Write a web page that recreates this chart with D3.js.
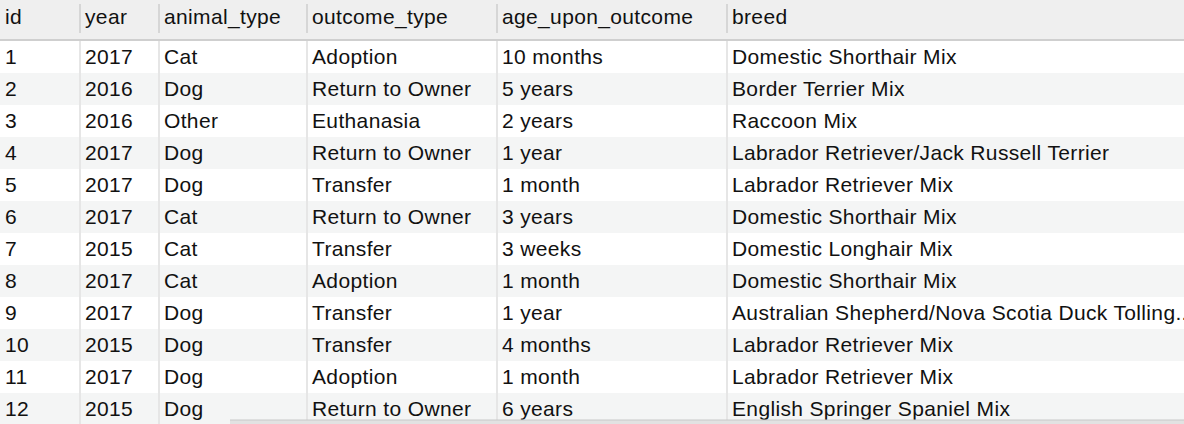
<!DOCTYPE html>
<html><head><meta charset="utf-8">
<script src="https://cdn.jsdelivr.net/npm/d3@7"></script>
<style>body{margin:0;background:#fff;overflow:hidden}svg{display:block}</style>
</head><body>
<script>
var columns = ["id", "year", "animal_type", "outcome_type", "age_upon_outcome", "breed"];
var colX = [0, 80, 159, 307, 497, 727];
var ids = [1, 2, 3, 4, 5, 6, 7, 8, 9, 10, 11, 12];
var years = [2017, 2016, 2016, 2017, 2017, 2017, 2015, 2017, 2017, 2015, 2017, 2015];
var animals = ["Cat", "Dog", "Other", "Dog", "Dog", "Cat", "Cat", "Cat", "Dog", "Dog", "Dog", "Dog"];
var outcomes = ["Adoption", "Return to Owner", "Euthanasia", "Return to Owner", "Transfer", "Return to Owner",
  "Transfer", "Adoption", "Transfer", "Transfer", "Adoption", "Return to Owner"];
var ages = ["10 months", "5 years", "2 years", "1 year", "1 month", "3 years", "3 weeks", "1 month", "1 year",
  "4 months", "1 month", "6 years"];
var breeds = ["Domestic Shorthair Mix", "Border Terrier Mix", "Raccoon Mix", "Labrador Retriever/Jack Russell Terrier",
  "Labrador Retriever Mix", "Domestic Shorthair Mix", "Domestic Longhair Mix", "Domestic Shorthair Mix",
  "Australian Shepherd/Nova Scotia Duck Tolling...", "Labrador Retriever Mix", "Labrador Retriever Mix",
  "English Springer Spaniel Mix"];

var W = 1184, H = 424, headH = 41, rowH = 32;
var rows = ids.map(function(d, i) { return [d, years[i], animals[i], outcomes[i], ages[i], breeds[i]]; });

var svg = d3.select("body").append("svg").attr("width", W).attr("height", H)
  .style("font-family", "'Liberation Sans', Arial, sans-serif").style("font-size", "21px")
  .style("letter-spacing", "0.35px");

var y = d3.scaleBand().domain(d3.range(rows.length)).range([headH, headH + rowH * rows.length]);

// header
svg.append("rect").attr("width", W).attr("height", headH - 1).attr("fill", "#efefef");
svg.append("line").attr("x1", 0).attr("x2", W).attr("y1", headH - 1).attr("y2", headH - 1)
  .attr("stroke", "#cfcfcf").attr("stroke-width", 2);
svg.selectAll("line.hsep").data(colX.slice(1)).enter().append("line")
  .attr("x1", d => d).attr("x2", d => d).attr("y1", 4).attr("y2", 33)
  .attr("stroke", "#d6d6d6").attr("stroke-width", 2);
svg.selectAll("text.head").data(columns).enter().append("text")
  .attr("x", (d, i) => colX[i] + 5).attr("y", 24).attr("fill", "#111").text(d => d);

// rows
var g = svg.selectAll("g.row").data(rows).enter().append("g")
  .attr("transform", (d, i) => "translate(0," + y(i) + ")");
g.append("rect").attr("width", W).attr("height", rowH)
  .attr("fill", (d, i) => i % 2 ? "#f4f5f5" : "#fff");
g.selectAll("line").data(colX.slice(1)).enter().append("line")
  .attr("x1", d => d).attr("x2", d => d).attr("y1", 0).attr("y2", rowH)
  .attr("stroke", "#e6e6e6").attr("stroke-width", 2);
g.selectAll("text").data(d => d).enter().append("text")
  .attr("x", (d, i) => colX[i] + 5).attr("y", 23).attr("fill", "#111").text(d => d);

// scrollbar hint
svg.append("rect").attr("x", 230).attr("y", 420).attr("width", W - 230).attr("height", 4).attr("fill", "#e2e2e2");
svg.append("line").attr("x1", 230).attr("x2", W).attr("y1", 420).attr("y2", 420).attr("stroke", "#c8c8c8");
</script>
</body></html>
